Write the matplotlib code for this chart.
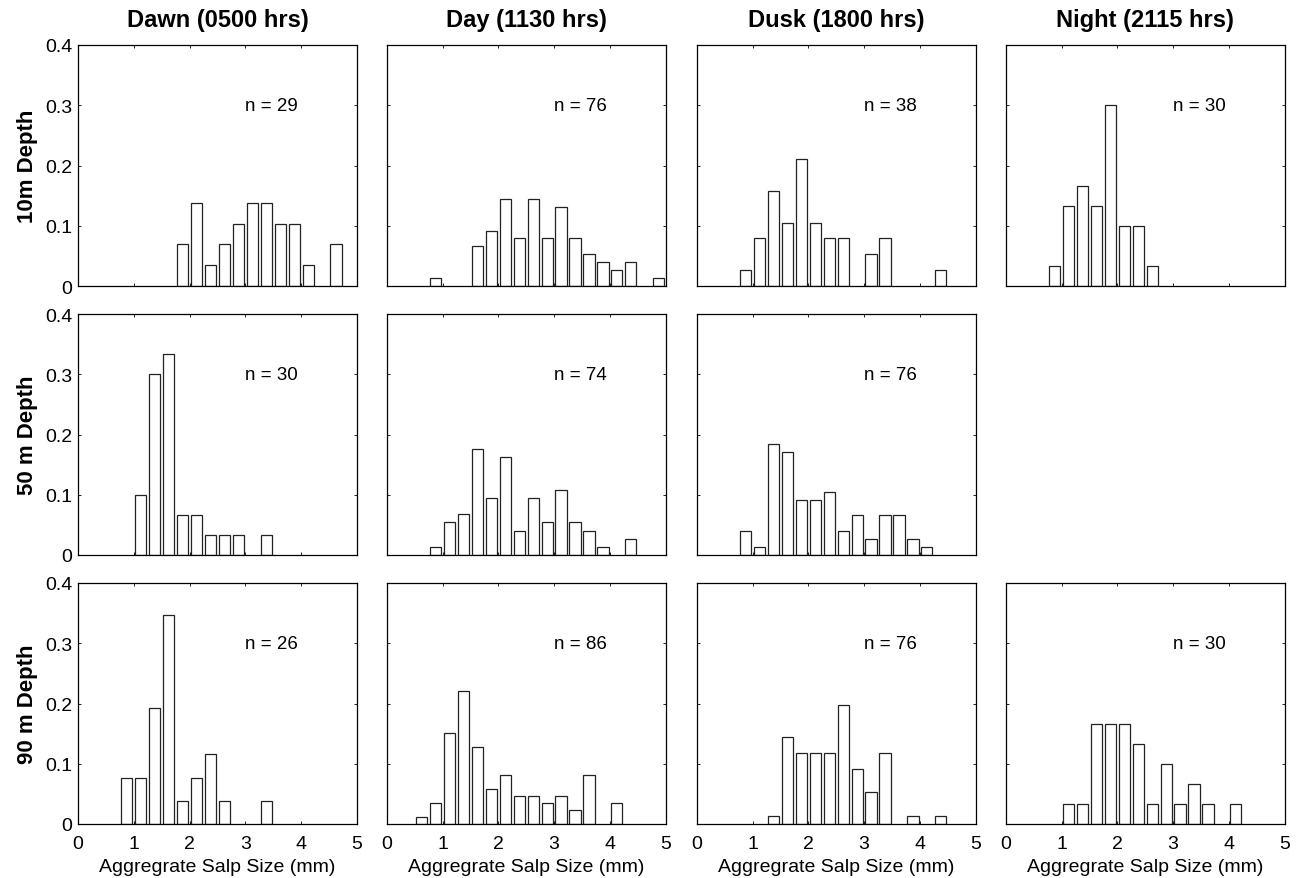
"""Size-frequency histograms of aggregate salps by time of day and depth."""

import matplotlib

matplotlib.use("Agg")
import matplotlib.pyplot as plt
import numpy as np
from matplotlib.ticker import FuncFormatter

plt.rcParams["font.family"] = ["Liberation Sans", "DejaVu Sans"]

# ----------------------------------------------------------------------
# Data: counts per 0.25 mm size bin (bin centres below), one row per depth
# ----------------------------------------------------------------------
bin_centers = [0.125, 0.375, 0.625, 0.875, 1.125, 1.375, 1.625, 1.875, 2.125, 2.375,
               2.625, 2.875, 3.125, 3.375, 3.625, 3.875, 4.125, 4.375, 4.625, 4.875]

times = ["Dawn (0500 hrs)", "Day (1130 hrs)", "Dusk (1800 hrs)", "Night (2115 hrs)"]
depths = ["10m Depth", "50 m Depth", "90 m Depth"]

counts_10m = [
    [0, 0, 0, 0, 0, 0, 0, 2, 4, 1, 2, 3, 4, 4, 3, 3, 1, 0, 2, 0],
    [0, 0, 0, 1, 0, 0, 5, 7, 11, 6, 11, 6, 10, 6, 4, 3, 2, 3, 0, 1],
    [0, 0, 0, 1, 3, 6, 4, 8, 4, 3, 3, 0, 2, 3, 0, 0, 0, 1, 0, 0],
    [0, 0, 0, 1, 4, 5, 4, 9, 3, 3, 1, 0, 0, 0, 0, 0, 0, 0, 0, 0],
]
counts_50m = [
    [0, 0, 0, 0, 3, 9, 10, 2, 2, 1, 1, 1, 0, 1, 0, 0, 0, 0, 0, 0],
    [0, 0, 0, 1, 4, 5, 13, 7, 12, 3, 7, 4, 8, 4, 3, 1, 0, 2, 0, 0],
    [0, 0, 0, 3, 1, 14, 13, 7, 7, 8, 3, 5, 2, 5, 5, 2, 1, 0, 0, 0],
    None,  # no night sample at 50 m
]
counts_90m = [
    [0, 0, 0, 2, 2, 5, 9, 1, 2, 3, 1, 0, 0, 1, 0, 0, 0, 0, 0, 0],
    [0, 0, 1, 3, 13, 19, 11, 5, 7, 4, 4, 3, 4, 2, 7, 0, 3, 0, 0, 0],
    [0, 0, 0, 0, 0, 1, 11, 9, 9, 9, 15, 7, 4, 9, 0, 1, 0, 1, 0, 0],
    [0, 0, 0, 0, 1, 1, 5, 5, 5, 4, 1, 3, 1, 2, 1, 0, 1, 0, 0, 0],
]

n_10m = [29, 76, 38, 30]
n_50m = [30, 74, 76, None]
n_90m = [26, 86, 76, 30]

all_counts = [counts_10m, counts_50m, counts_90m]
all_n = [n_10m, n_50m, n_90m]

# ----------------------------------------------------------------------
# Layout
# ----------------------------------------------------------------------
W, H = 1302, 879
fig = plt.figure(figsize=(W / 100, H / 100), dpi=100)

col_left = [78, 386.7, 696.7, 1005.7]
row_top = [46, 315, 584]
ax_w, ax_h = 279, 241


def y_fmt(v, _pos):
    return "0" if abs(v) < 1e-9 else f"{v:.1f}"


for r in range(3):
    for c in range(4):
        counts = all_counts[r][c]
        if counts is None:
            continue
        rect = [col_left[c] / W, 1 - (row_top[r] + ax_h) / H, ax_w / W, ax_h / H]
        ax = fig.add_axes(rect)

        x = np.array(bin_centers)
        cnt = np.array(counts, dtype=float)
        keep = cnt > 0
        ax.bar(x[keep], cnt[keep] / all_n[r][c], width=0.2,
               facecolor="white", edgecolor="#222222", linewidth=0.9)

        ax.text(3.0, 0.3, f"n = {all_n[r][c]}", ha="left", va="center", fontsize=13.5)

        ax.set_xlim(0, 5)
        ax.set_ylim(0, 0.4)
        ax.set_xticks([0, 1, 2, 3, 4, 5])
        ax.set_yticks([0, 0.1, 0.2, 0.3, 0.4])
        ax.tick_params(direction="in", length=2.5, width=0.6, top=True, right=True,
                       labelsize=14)
        ax.tick_params(axis="x", pad=8)
        ax.tick_params(axis="y", pad=4)
        ax.yaxis.set_major_formatter(FuncFormatter(y_fmt))
        for sp in ax.spines.values():
            sp.set_linewidth(0.9)

        if c != 0:
            ax.set_yticklabels([])
        if r == 2:
            ax.set_xlabel("Aggregrate Salp Size (mm)", fontsize=14, labelpad=4)
        else:
            ax.set_xticklabels([])

# Column titles and row labels
for c, title in enumerate(times):
    fig.text((col_left[c] + ax_w / 2) / W, 1 - 20 / H, title,
             ha="center", va="center", fontsize=17, fontweight="bold")

for r, label in enumerate(depths):
    fig.text(27 / W, 1 - (row_top[r] + ax_h / 2) / H, label, rotation=90,
             ha="center", va="center", fontsize=16, fontweight="bold")

fig.savefig("out.png", dpi=100)
